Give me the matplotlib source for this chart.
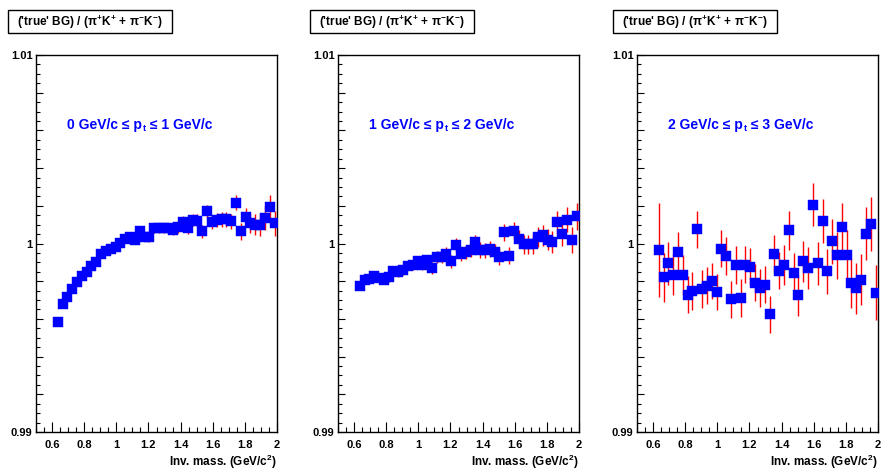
import matplotlib
matplotlib.use('Agg')
import matplotlib.pyplot as plt
from matplotlib.patches import Rectangle
from matplotlib.ticker import FuncFormatter, FixedLocator
import numpy as np

plt.rcParams['font.family'] = ['Liberation Sans', 'DejaVu Sans']
plt.rcParams['font.weight'] = 'bold'
plt.rcParams['mathtext.fontset'] = 'custom'
plt.rcParams['mathtext.rm'] = 'Liberation Sans:bold'
plt.rcParams['mathtext.bf'] = 'Liberation Sans:bold'
plt.rcParams['mathtext.it'] = 'Liberation Sans'
plt.rcParams['mathtext.sf'] = 'Liberation Sans:bold'

# ---------------- data ----------------
mass = [0.635, 0.665, 0.695, 0.725, 0.755, 0.785, 0.815, 0.845, 0.875, 0.905,
        0.935, 0.965, 0.995, 1.025, 1.055, 1.085, 1.115, 1.145, 1.175, 1.205,
        1.235, 1.265, 1.295, 1.325, 1.355, 1.385, 1.415, 1.445, 1.475, 1.505,
        1.535, 1.565, 1.595, 1.625, 1.655, 1.685, 1.715, 1.745, 1.775, 1.805,
        1.835, 1.865, 1.895, 1.925, 1.955, 1.985]

ratio_pt01 = [0.99581, 0.99679, 0.99718, 0.99759, 0.99798, 0.99825, 0.99847, 0.99883, 0.99904, 0.99945,
              0.99960, 0.99972, 0.99980, 1.00002, 1.00025, 1.00034, 1.00020, 1.00066, 1.00034, 1.00034,
              1.00082, 1.00083, 1.00083, 1.00083, 1.00073, 1.00087, 1.00113, 1.00083, 1.00126, 1.00122,
              1.00064, 1.00170, 1.00113, 1.00126, 1.00128, 1.00128, 1.00117, 1.00216, 1.00064, 1.00140,
              1.00108, 1.00099, 1.00099, 1.00135, 1.00193, 1.00108]
err_pt01 = [0.00012, 0.00012, 0.00012, 0.00013, 0.00013, 0.00013, 0.00014, 0.00014, 0.00015, 0.00015,
            0.00016, 0.00016, 0.00017, 0.00018, 0.00019, 0.00020, 0.00021, 0.00022, 0.00023, 0.00024,
            0.00025, 0.00026, 0.00027, 0.00028, 0.00029, 0.00030, 0.00031, 0.00032, 0.00033, 0.00034,
            0.00035, 0.00036, 0.00037, 0.00038, 0.00039, 0.00040, 0.00040, 0.00040, 0.00045, 0.00048,
            0.00052, 0.00055, 0.00058, 0.00062, 0.00066, 0.00066]

ratio_pt12 = [0.99773, 0.99807, 0.99812, 0.99830, 0.99816, 0.99809, 0.99821, 0.99856, 0.99848, 0.99860,
              0.99883, 0.99888, 0.99906, 0.99888, 0.99910, 0.99869, 0.99927, 0.99927, 0.99945, 0.99906,
              0.99993, 0.99945, 0.99954, 0.99966, 1.00007, 0.99966, 0.99963, 0.99972, 0.99954, 0.99931,
              1.00060, 0.99936, 1.00066, 1.00025, 0.99995, 0.99995, 0.99998, 1.00034, 1.00043, 1.00020,
              1.00007, 1.00113, 1.00048, 1.00126, 1.00020, 1.00144]
err_pt12 = [0.00020, 0.00020, 0.00021, 0.00021, 0.00022, 0.00022, 0.00023, 0.00024, 0.00025, 0.00025,
            0.00026, 0.00027, 0.00028, 0.00029, 0.00030, 0.00031, 0.00032, 0.00033, 0.00034, 0.00035,
            0.00036, 0.00037, 0.00038, 0.00039, 0.00040, 0.00041, 0.00042, 0.00043, 0.00044, 0.00045,
            0.00046, 0.00047, 0.00048, 0.00049, 0.00050, 0.00051, 0.00052, 0.00053, 0.00054, 0.00056,
            0.00058, 0.00060, 0.00062, 0.00065, 0.00068, 0.00070]

ratio_pt23 = [0.999665, 0.998207, 0.998952, 0.998351, 0.999537, 0.998314, 0.997287, 0.997463, 1.000745, 0.997590,
              0.997766, 0.998032, 0.997410, 0.999734, 0.999344, 0.997037, 0.998846, 0.997110, 0.998883, 0.998777,
              0.997926, 0.997643, 0.997819, 0.996239, 0.999452, 0.998564, 0.998846, 1.000691, 0.998420, 0.997250,
              0.999059, 0.998707, 1.002059, 0.998952, 1.001186, 0.998527, 1.000122, 0.999378, 1.000867, 0.999415,
              0.997910, 0.997622, 0.998085, 1.000516, 1.001027, 0.997394]
err_pt23 = [0.00250, 0.00130, 0.00115, 0.00110, 0.00105, 0.00105, 0.00100, 0.00100, 0.00100, 0.00100,
            0.00100, 0.00095, 0.00095, 0.00100, 0.00100, 0.00100, 0.00100, 0.00100, 0.00100, 0.00100,
            0.00100, 0.00100, 0.00100, 0.00100, 0.00100, 0.00100, 0.00105, 0.00105, 0.00105, 0.00110,
            0.00110, 0.00110, 0.00113, 0.00115, 0.00117, 0.00120, 0.00120, 0.00125, 0.00128, 0.00128,
            0.00133, 0.00135, 0.00137, 0.00140, 0.00145, 0.00145]

pt_low = ['0', '1', '2']
pt_high = ['1', '2', '3']
title_text = r"('true' BG) / ($\pi^{+}$K$^{+}$ + $\pi^{-}$K$^{-}$)"
xlabel_text = r'Inv. mass. (GeV/c$^{2}$)'
series = [(ratio_pt01, err_pt01), (ratio_pt12, err_pt12), (ratio_pt23, err_pt23)]

# ---------------- layout ----------------
W, H = 882, 470
fig = plt.figure(figsize=(W / 100, H / 100), dpi=100)
lefts = [36, 338, 637]
box_lefts = [8, 310, 613]
axw = 241
top, bot = 55, 432


def yfmt(v, pos):
    r = round(v, 5)
    if abs(r - 0.99) < 1e-6:
        return '0.99'
    if abs(r - 1.0) < 1e-6:
        return '1'
    if abs(r - 1.01) < 1e-6:
        return '1.01'
    return ''


def xfmt(v, pos):
    return '%g' % round(v, 3)


for k in range(3):
    L = lefts[k]
    ax = fig.add_axes([L / W, (H - bot) / H, axw / W, (bot - top) / H])
    y, e = series[k]
    ax.vlines(mass, np.array(y) - np.array(e), np.array(y) + np.array(e),
              colors='#ff0000', linewidth=1.0, zorder=2)
    ax.plot(mass, y, linestyle='none', marker='s', markersize=6.8,
            markerfacecolor='#0000ff', markeredgecolor='#0000ff',
            markeredgewidth=0.3, zorder=3)
    ax.set_xlim(0.5, 2.0)
    ax.set_ylim(0.99, 1.01)

    ax.xaxis.set_major_locator(FixedLocator([0.6, 0.8, 1.0, 1.2, 1.4, 1.6, 1.8, 2.0]))
    ax.xaxis.set_minor_locator(FixedLocator([0.5 + 0.05 * i for i in range(31)]))
    ax.xaxis.set_major_formatter(FuncFormatter(xfmt))
    ax.yaxis.set_major_locator(FixedLocator([0.99 + 0.002 * i for i in range(11)]))
    ax.yaxis.set_minor_locator(FixedLocator([0.99 + 0.0005 * i for i in range(41)]))
    ax.yaxis.set_major_formatter(FuncFormatter(yfmt))

    ax.tick_params(axis='both', which='both', direction='in', top=False, right=False,
                   width=0.8, labelsize=8)
    ax.tick_params(axis='x', which='major', length=7.5, pad=6)
    ax.tick_params(axis='x', which='minor', length=3.6)
    ax.tick_params(axis='y', which='major', length=5.2, pad=2.5)
    ax.tick_params(axis='y', which='minor', length=3.0)
    for lab in ax.get_xticklabels() + ax.get_yticklabels():
        lab.set_fontweight('bold')
    for sp in ax.spines.values():
        sp.set_linewidth(1.0)

    # blue pt-range label: "a GeV/c ≤ p_t ≤ b GeV/c" with a lowered subscript
    t1 = ax.text(0.129, 0.8037, pt_low[k] + ' GeV/c ≤ p', transform=ax.transAxes,
                 ha='left', va='baseline', color='#0000ff', fontsize=10, fontweight='bold')
    t2 = ax.annotate('t', xy=(1, 0), xycoords=t1, xytext=(0.8, -0.8),
                     textcoords='offset points', ha='left', va='bottom',
                     color='#0000ff', fontsize=6.5, fontweight='bold')
    ax.annotate(' ≤ ' + pt_high[k] + ' GeV/c', xy=(1, 0), xycoords=(t2, t1),
                xytext=(0, 0), textcoords='offset points', ha='left', va='bottom',
                color='#0000ff', fontsize=10, fontweight='bold')

    # title box
    bx0 = box_lefts[k]
    bx1, by0, by1 = bx0 + 164, 10, 33
    fig.add_artist(Rectangle((bx0 / W, (H - by1) / H), (bx1 - bx0) / W, (by1 - by0) / H,
                             transform=fig.transFigure, facecolor='white',
                             edgecolor='black', linewidth=1.0))
    fig.text((bx0 + bx1) / 2 / W, (H - 22) / H, title_text, ha='center', va='center',
             fontsize=8.5, fontweight='bold')

    fig.text((L + axw) / W, (H - 462) / H, xlabel_text, ha='right', va='center',
             fontsize=8.5, fontweight='bold')

fig.savefig('out.png', dpi=100)
